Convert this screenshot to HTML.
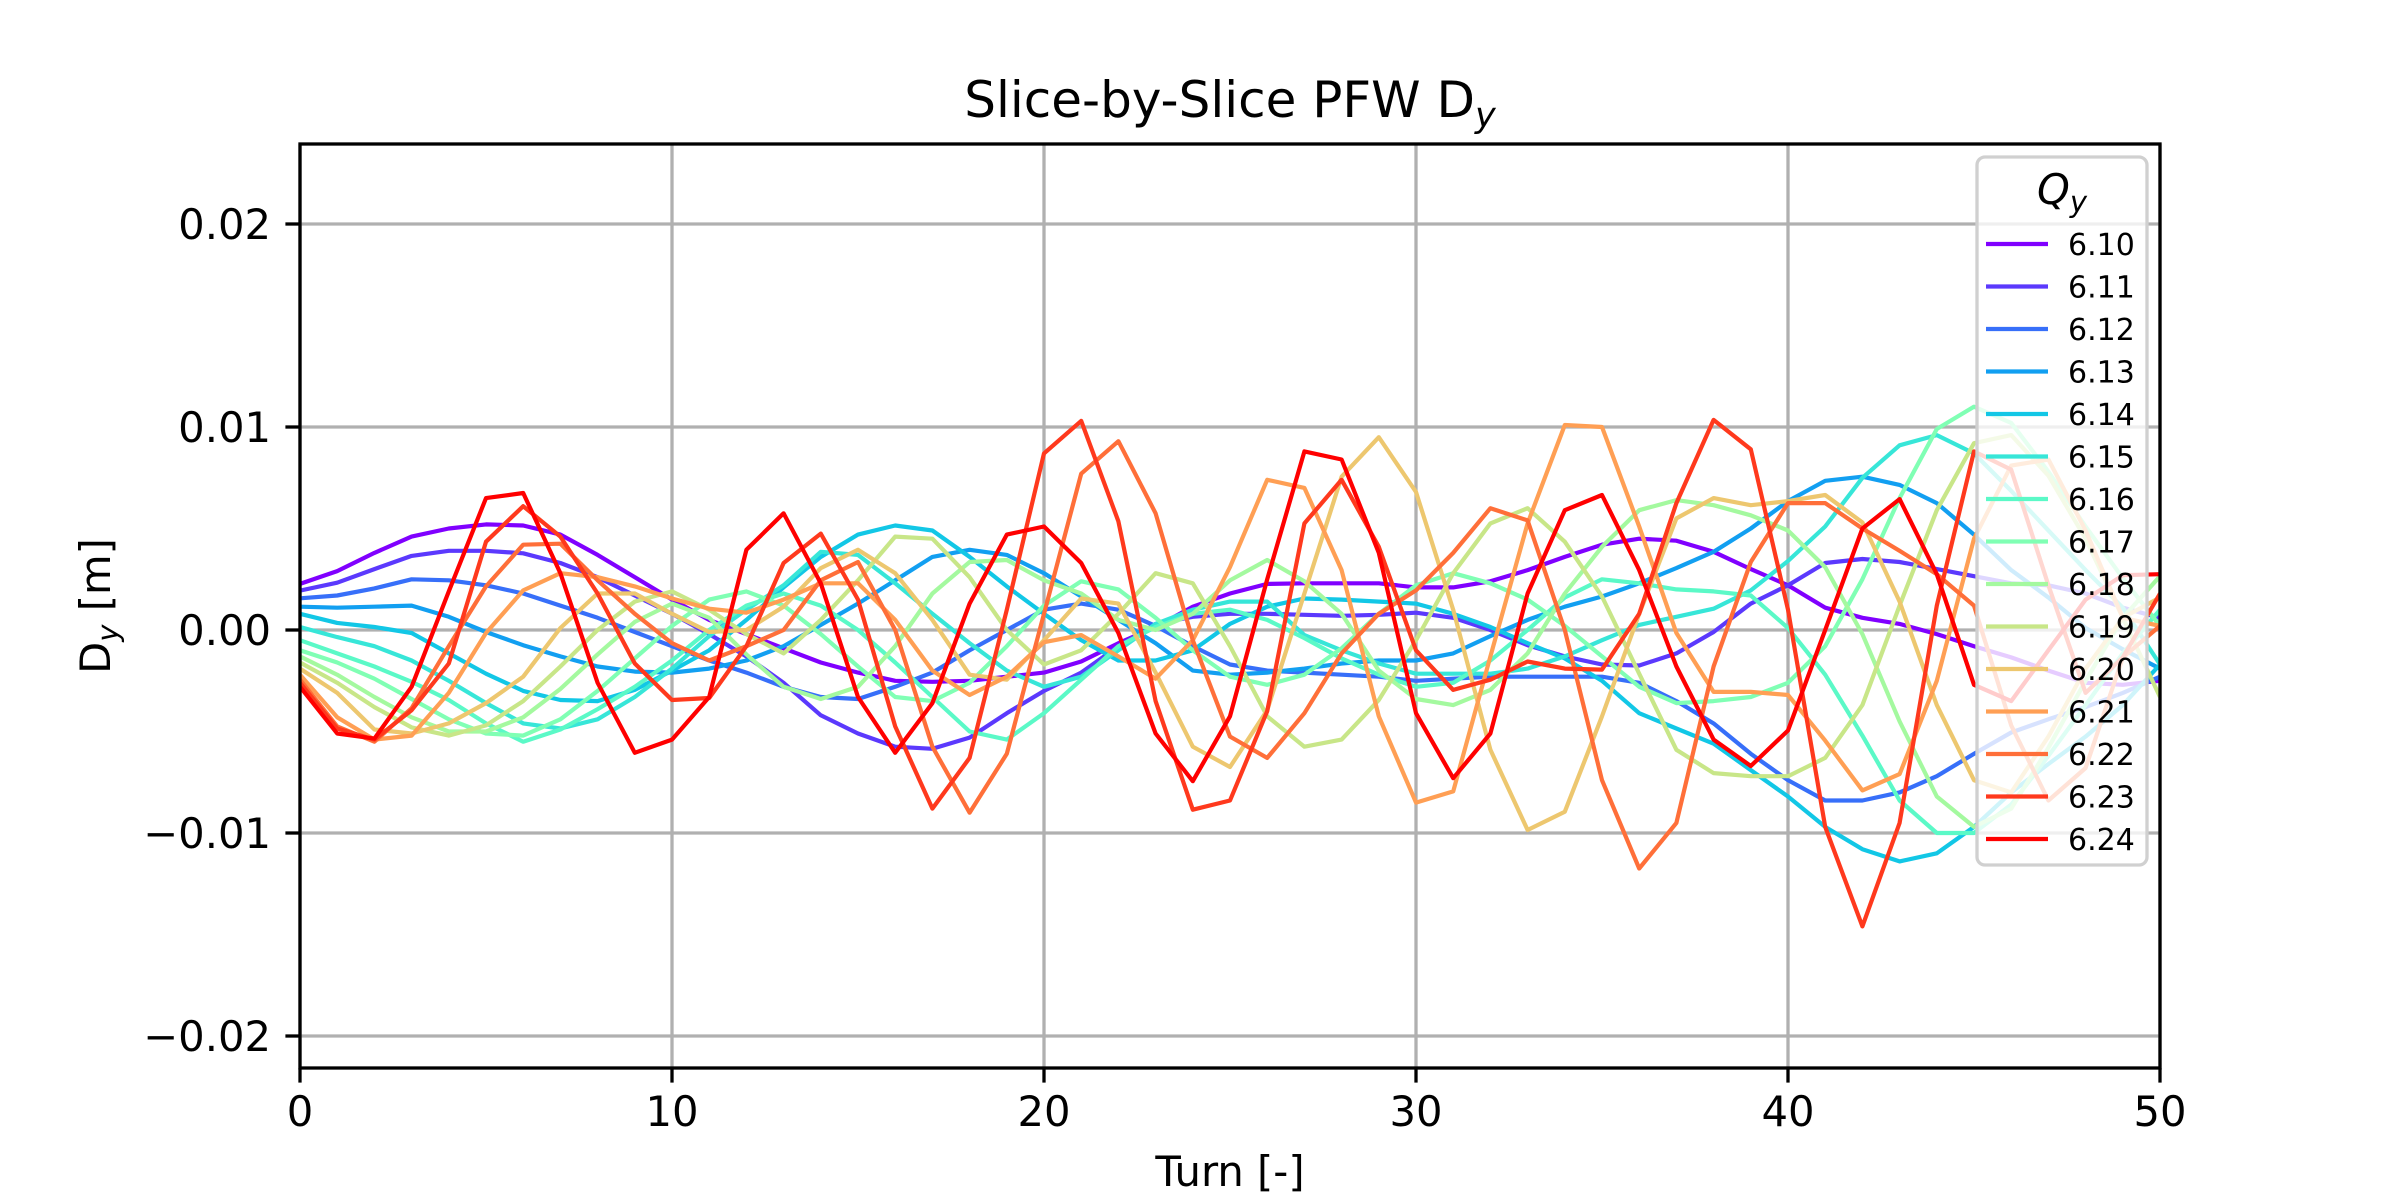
<!DOCTYPE html>
<html><head><meta charset="utf-8"><style>
html,body{margin:0;padding:0;background:#fff;}
svg{display:block;font-family:"DejaVu Sans","Liberation Sans",sans-serif;}
</style></head><body>
<svg id="chart" xmlns="http://www.w3.org/2000/svg" width="2400" height="1200" viewBox="0 0 2400 1200">
<rect width="2400" height="1200" fill="#fff"/>
<g id="grid"></g>
<g id="series" clip-path="url(#clip)"></g>
<defs><clipPath id="clip"><rect x="300" y="144" width="1860" height="924"/></clipPath></defs>
<g id="axes"></g>
<text x="1230" y="117" font-size="50" text-anchor="middle">Slice-by-Slice PFW D<tspan font-size="35" font-style="italic" dy="10">y</tspan></text>
<text x="1230" y="1186" font-size="41.7" text-anchor="middle">Turn [-]</text>
<text transform="translate(110,606) rotate(-90)" font-size="41.7" text-anchor="middle">D<tspan font-size="29" font-style="italic" dy="8">y</tspan><tspan dy="-8"> [m]</tspan></text>
<g id="legend"></g>
</svg>
<script>
const turns = Array.from({length:51},(_,i)=>i);
const labels = ["6.10","6.11","6.12","6.13","6.14","6.15","6.16","6.17","6.18","6.19","6.20","6.21","6.22","6.23","6.24"];
const xTicks = [0,10,20,30,40,50];
const yTicks = [0.02,0.01,0,-0.01,-0.02];
const yTickLabels = ["0.02","0.01","0.00","\u22120.01","\u22120.02"];
// values in mm (x1e-3 m)
const q610 = [2.27,2.9,3.8,4.6,5.0,5.2,5.15,4.7,3.7,2.6,1.5,0.5,-0.2,-0.9,-1.6,-2.1,-2.5,-2.55,-2.5,-2.3,-2.1,-1.55,-0.65,0.15,1.15,1.8,2.27,2.3,2.3,2.3,2.1,2.1,2.4,2.95,3.6,4.2,4.5,4.4,3.85,3.0,2.2,1.1,0.6,0.3,-0.2,-0.8,-1.35,-2.0,-2.6,-2.7,-2.5];
const q611 = [1.94,2.33,3.0,3.65,3.9,3.9,3.78,3.3,2.6,1.7,0.8,-0.2,-1.3,-2.6,-4.2,-5.1,-5.75,-5.85,-5.3,-4.1,-3.0,-2.1,-0.8,0.3,0.65,0.8,0.8,0.75,0.7,0.75,0.85,0.6,0.0,-0.75,-1.3,-1.7,-1.75,-1.15,-0.1,1.3,2.2,3.3,3.5,3.35,3.0,2.65,2.3,2.2,1.8,1.1,0.6];
const q612 = [1.56,1.7,2.05,2.5,2.45,2.2,1.8,1.2,0.6,-0.1,-0.8,-1.5,-2.1,-2.8,-3.3,-3.4,-2.8,-2.1,-1.0,0.0,1.0,1.3,1.0,0.2,-0.8,-1.7,-2.0,-2.1,-2.2,-2.3,-2.5,-2.4,-2.3,-2.3,-2.3,-2.3,-2.6,-3.5,-4.6,-6.1,-7.4,-8.4,-8.4,-8.0,-7.2,-6.1,-5.05,-4.4,-3.8,-3.1,-2.3];
const q613 = [1.15,1.1,1.15,1.2,0.65,-0.1,-0.75,-1.3,-1.8,-2.05,-2.1,-1.9,-1.5,-0.8,0.25,1.3,2.45,3.6,3.95,3.7,2.8,1.65,0.5,-0.65,-2.0,-2.2,-2.1,-1.9,-1.65,-1.5,-1.5,-1.15,-0.3,0.5,1.15,1.65,2.3,3.05,3.85,5.0,6.35,7.35,7.55,7.15,6.25,4.7,2.95,1.6,0.1,-0.95,-1.9];
const q614 = [0.8,0.35,0.15,-0.15,-1.15,-2.15,-3.0,-3.45,-3.5,-2.95,-2.0,-1.0,0.5,2.1,3.6,4.7,5.15,4.9,3.6,2.15,0.8,-0.5,-1.5,-1.5,-1.0,0.3,1.15,1.55,1.5,1.4,1.3,0.8,0.15,-0.65,-1.4,-2.5,-4.1,-4.85,-5.6,-6.9,-8.2,-9.7,-10.8,-11.4,-11.0,-9.7,-8.0,-6.6,-5.25,-3.7,-1.7];
const q615 = [0.15,-0.35,-0.8,-1.5,-2.5,-3.6,-4.6,-4.85,-4.4,-3.3,-1.9,-0.3,1.0,2.2,3.85,3.7,2.3,0.8,-0.65,-2.0,-2.8,-2.3,-1.0,0.3,1.0,1.4,1.4,-0.25,-1.0,-1.65,-2.15,-2.15,-2.15,-1.9,-1.3,-0.5,0.25,0.65,1.05,1.95,3.4,5.1,7.5,9.1,9.6,8.7,6.85,4.9,2.95,1.1,-1.7];
const q616 = [-0.5,-1.15,-1.8,-2.55,-3.45,-4.6,-5.5,-4.9,-3.9,-2.8,-1.5,0.0,1.2,1.8,1.2,0.0,-1.6,-3.3,-5.0,-5.4,-4.1,-2.45,-0.8,0.15,0.8,1.0,0.5,-0.4,-1.4,-2.2,-2.8,-2.6,-1.5,0.0,1.6,2.5,2.3,2.0,1.9,1.7,0.1,-2.2,-5.2,-8.4,-10.0,-10.0,-8.6,-6.2,-3.7,-1.15,1.0];
const q617 = [-1.0,-1.6,-2.4,-3.4,-4.4,-5.1,-5.2,-4.4,-3.0,-1.4,0.2,1.5,1.9,1.2,-0.2,-1.8,-3.3,-3.5,-2.6,-0.8,1.2,2.4,2.0,0.6,-1.0,-2.3,-2.7,-2.2,-0.9,0.8,2.2,2.8,2.3,1.5,0.2,-1.3,-2.8,-3.6,-3.5,-3.3,-2.6,-0.8,2.5,6.5,9.9,11.0,10.2,7.8,5.1,2.55,0.2];
const q618 = [-1.3,-2.2,-3.3,-4.3,-5.0,-5.0,-4.3,-2.9,-1.2,0.4,1.3,0.6,-1.2,-2.8,-3.4,-2.8,-0.8,1.8,3.35,3.45,2.45,1.8,0.5,0.0,0.8,2.45,3.45,2.4,0.8,-2.0,-3.4,-3.7,-2.95,-1.15,1.8,4.1,5.9,6.4,6.15,5.65,4.9,3.1,-0.2,-4.5,-8.2,-9.7,-8.8,-5.8,-2.5,0.6,2.65];
const q619 = [-1.6,-2.6,-3.8,-4.8,-5.2,-4.7,-3.5,-1.8,0.0,1.4,1.9,1.0,-0.2,-1.15,0.5,2.45,4.6,4.5,2.6,0.0,-1.7,-1.0,0.8,2.8,2.3,-0.8,-4.25,-5.75,-5.4,-3.45,-0.5,2.8,5.25,6.0,4.35,1.65,-2.15,-5.9,-7.05,-7.2,-7.2,-6.3,-3.7,1.2,5.9,9.2,9.6,7.6,4.5,0.6,-3.3];
const q620 = [-1.9,-3.1,-4.9,-5.1,-4.6,-3.6,-2.3,0.1,1.8,1.8,0.8,-0.1,0.0,1.15,3.05,3.95,2.8,0.5,-2.2,-2.45,-0.5,1.55,1.3,-2.1,-5.75,-6.75,-3.95,1.8,7.55,9.5,6.8,1.0,-5.9,-9.85,-8.95,-4.25,0.8,5.5,6.5,6.15,6.35,6.65,5.3,1.4,-3.7,-7.4,-8.0,-5.25,-1.9,0.6,1.6];
const q621 = [-2.2,-4.3,-5.4,-5.2,-3.1,-0.15,1.95,2.8,2.6,2.15,1.55,1.05,0.85,1.5,2.3,2.3,0.5,-2.0,-3.2,-2.3,-0.6,-0.25,-1.3,-2.4,-0.5,3.1,7.4,7.0,2.95,-4.25,-8.5,-7.95,-1.3,5.25,10.1,10.0,5.1,-0.15,-3.05,-3.05,-3.2,-5.45,-7.9,-7.1,-2.5,4.5,8.1,8.4,4.9,0.6,0.2];
const q622 = [-2.45,-4.75,-5.5,-3.85,-0.8,2.15,4.2,4.25,2.45,0.8,-0.65,-1.5,-0.8,0.0,2.45,3.35,0.0,-5.75,-9.0,-6.1,0.8,7.7,9.3,5.75,-0.5,-5.25,-6.3,-4.1,-1.15,0.8,1.95,3.8,6.0,5.4,0.0,-7.4,-11.75,-9.5,-1.8,3.35,6.25,6.25,5.0,3.9,2.75,1.2,-4.7,-8.4,-6.8,-1.35,0.2];
const q623 = [-2.6,-4.85,-5.4,-3.95,-1.65,4.35,6.1,4.6,1.8,-1.65,-3.45,-3.35,-0.8,3.3,4.75,1.5,-4.75,-8.8,-6.3,1.0,8.7,10.3,5.35,-3.5,-8.85,-8.4,-4.0,5.25,7.4,4.1,-1.0,-2.95,-2.45,-1.55,-1.9,-1.95,0.8,6.25,10.35,8.9,1.0,-9.7,-14.6,-9.5,1.2,8.8,7.9,2.2,-3.1,-1.35,1.8];
const q624 = [-2.8,-5.1,-5.35,-2.8,1.9,6.5,6.75,2.8,-2.6,-6.05,-5.4,-3.3,3.95,5.75,2.3,-3.3,-6.05,-3.6,1.3,4.7,5.1,3.3,-0.15,-5.1,-7.45,-4.25,2.5,8.8,8.4,3.8,-4.1,-7.3,-5.1,1.8,5.9,6.65,2.95,-1.8,-5.4,-6.7,-4.95,0.0,5.0,6.45,2.75,-2.7,-3.5,-1.0,1.5,2.7,2.75];
const seriesValues = [q610,q611,q612,q613,q614,q615,q616,q617,q618,q619,q620,q621,q622,q623,q624];

const X0=300,X1=2160,Y0=144,Y1=1068,XMIN=0,XMAX=50,YMIN=-0.021576,YMAX=0.023941;
function xs(t){return X0+(t-XMIN)/(XMAX-XMIN)*(X1-X0);}
function ys(v){return Y1-(v-YMIN)/(YMAX-YMIN)*(Y1-Y0);}
function color(i,n){const x=i/(n-1);const r=Math.min(1,Math.abs(2*x-0.5)),g=Math.sin(Math.PI*x),b=Math.cos(Math.PI*x/2);
 return `rgb(${Math.round(r*255)},${Math.round(g*255)},${Math.round(b*255)})`;}
const NS="http://www.w3.org/2000/svg";
function mk(tag,attrs,parent){const e=document.createElementNS(NS,tag);for(const k in attrs)e.setAttribute(k,attrs[k]);parent.appendChild(e);return e;}

const grid=document.getElementById('grid'),axes=document.getElementById('axes'),ser=document.getElementById('series'),leg=document.getElementById('legend');
xTicks.forEach(t=>{
 const l=mk('line',{x1:xs(t),x2:xs(t),y1:Y0,y2:Y1,stroke:'#b0b0b0','stroke-width':3.3},grid);
 
 
 const tk=mk('line',{x1:xs(t),x2:xs(t),y1:Y1,y2:Y1+14.6,stroke:'#000','stroke-width':3.3},axes);
 
 
 const tx=mk('text',{x:xs(t),y:Y1+58,'font-size':41.7,'text-anchor':'middle'},axes);
 tx.textContent=String(t);
 
 
});
yTicks.forEach((v,i)=>{
 const l=mk('line',{x1:X0,x2:X1,y1:ys(v),y2:ys(v),stroke:'#b0b0b0','stroke-width':3.3},grid);
 
 
 const tk=mk('line',{x1:X0-14.6,x2:X0,y1:ys(v),y2:ys(v),stroke:'#000','stroke-width':3.3},axes);
 
 
 const tx=mk('text',{x:X0-29,y:ys(v)+15,'font-size':41.7,'text-anchor':'end'},axes);
 tx.textContent=yTickLabels[i];
 
 
});
const frame=mk('rect',{x:X0,y:Y0,width:X1-X0,height:Y1-Y0,fill:'none',stroke:'#000','stroke-width':3.3},axes);



seriesValues.forEach((vals,i)=>{
 const d=vals.map((v,j)=>(j?'L':'M')+xs(turns[j]).toFixed(1)+','+ys(v*1e-3).toFixed(1)).join('');
 const p=mk('path',{d:d,fill:'none',stroke:color(i,labels.length),'stroke-width':4.2,'stroke-linejoin':'round'},ser);
 
 
});

// legend
const box=mk('rect',{x:1977,y:157,width:170,height:708,rx:8,fill:'rgba(255,255,255,0.8)',stroke:'#d0d0d0','stroke-width':3.3},leg);


const lt=mk('text',{x:2062,y:204,'font-size':41.7,'text-anchor':'middle','font-style':'italic'},leg);
lt.innerHTML='Q<tspan font-size="29" dy="8">y</tspan>';


labels.forEach((lab,i)=>{
 const y=244+i*42.5;
 const g=mk('g',{},leg);
 
 
 mk('line',{x1:1986,x2:2048,y1:y,y2:y,stroke:color(i,labels.length),'stroke-width':4.2},g);
 const t=mk('text',{x:2068,y:y+11,'font-size':30},g);
 t.textContent=lab;
});
</script>
</body></html>
